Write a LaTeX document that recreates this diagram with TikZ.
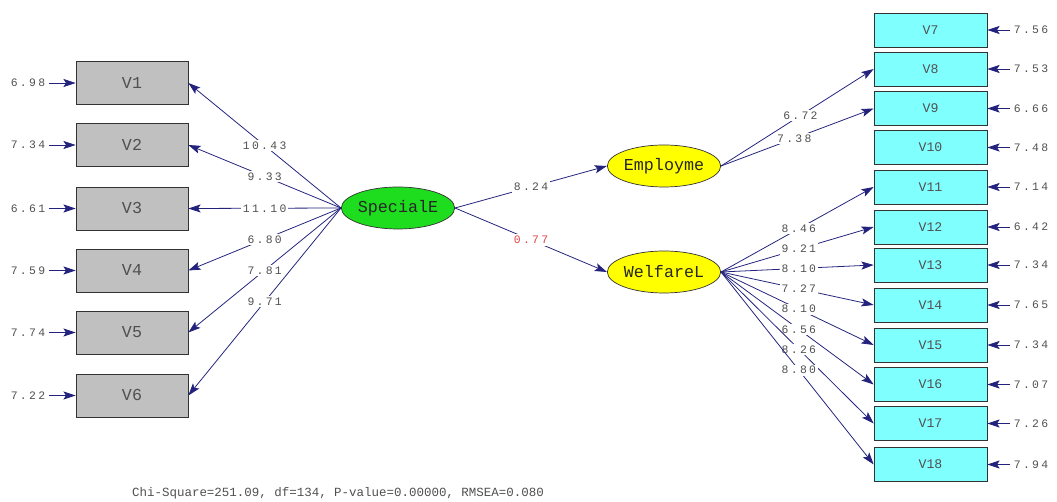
\documentclass[tikz,border=0pt]{standalone}
\usepackage{fontspec}
\setmonofont{Liberation Mono}
\newfontfamily\lisnum[LetterSpace=20]{Liberation Mono}
\usetikzlibrary{arrows.meta,shapes.geometric}
\definecolor{lisgray}{RGB}{192,192,192}
\definecolor{liscyan}{RGB}{128,255,255}
\definecolor{lisgreen}{RGB}{30,220,30}
\definecolor{lisyellow}{RGB}{255,255,0}
\definecolor{lisnavy}{RGB}{35,35,125}
\definecolor{lisred}{RGB}{225,70,70}
\definecolor{listext}{RGB}{80,80,80}
\begin{document}
\begin{tikzpicture}[x=0.02cm, y=-0.02cm,
    obsL/.style={draw=black!80, fill=lisgray, minimum width=2.24cm, minimum height=0.86cm, inner sep=0pt, text=listext, font=\ttfamily\fontsize{9.5}{9.5}\selectfont},
    obsR/.style={draw=black!80, fill=liscyan, minimum width=2.26cm, minimum height=0.68cm, inner sep=0pt, text=listext, font=\ttfamily\fontsize{7.5}{7.5}\selectfont},
    lat/.style={ellipse, draw=black!80, minimum width=2.2cm, minimum height=0.84cm, inner sep=0pt, text=black!85, font=\ttfamily\fontsize{9.5}{9.5}\selectfont},
    lnk/.style={draw=lisnavy, line width=0.45pt, -{Stealth[length=7pt, width=4.6pt, inset=1.5pt]}},
    est/.style={fill=white, inner sep=1pt, text=listext, font=\lisnum\fontsize{6.5}{6.5}\selectfont},
    errlab/.style={inner sep=2pt, text=listext, font=\lisnum\fontsize{6.5}{6.5}\selectfont}]
\useasboundingbox (0,0) rectangle (1057,502);

\node[obsL] (v1) at (132,83) {V1};
\node[obsL] (v2) at (132,145) {V2};
\node[obsL] (v3) at (132,208.5) {V3};
\node[obsL] (v4) at (132,270.5) {V4};
\node[obsL] (v5) at (132,332.5) {V5};
\node[obsL] (v6) at (132,395.5) {V6};

\node[obsR] (v7) at (930.5,30) {V7};
\node[obsR] (v8) at (930.5,69) {V8};
\node[obsR] (v9) at (930.5,108.5) {V9};
\node[obsR] (v10) at (930.5,147.5) {V10};
\node[obsR] (v11) at (930.5,187) {V11};
\node[obsR] (v12) at (930.5,227) {V12};
\node[obsR] (v13) at (930.5,265) {V13};
\node[obsR] (v14) at (930.5,305) {V14};
\node[obsR] (v15) at (930.5,345) {V15};
\node[obsR] (v16) at (930.5,384.5) {V16};
\node[obsR] (v17) at (930.5,423.5) {V17};
\node[obsR] (v18) at (930.5,464.5) {V18};

\node[lat, fill=lisgreen] (spec) at (398,208) {SpecialE};
\node[lat, fill=lisyellow] (empl) at (664,166) {Employme};
\node[lat, fill=lisyellow] (welf) at (664,272) {WelfareL};

\node[errlab] (e1) at (28,83) {6.98};
\node[errlab] (e2) at (28,145) {7.34};
\node[errlab] (e3) at (28,208.5) {6.61};
\node[errlab] (e4) at (28,270.5) {7.59};
\node[errlab] (e5) at (28,332.5) {7.74};
\node[errlab] (e6) at (28,395.5) {7.22};
\draw[lnk] (e1) -- (v1);
\draw[lnk] (e2) -- (v2);
\draw[lnk] (e3) -- (v3);
\draw[lnk] (e4) -- (v4);
\draw[lnk] (e5) -- (v5);
\draw[lnk] (e6) -- (v6);

\node[errlab] (e7) at (1031,30) {7.56};
\node[errlab] (e8) at (1031,69) {7.53};
\node[errlab] (e9) at (1031,108.5) {6.66};
\node[errlab] (e10) at (1031,147.5) {7.48};
\node[errlab] (e11) at (1031,187) {7.14};
\node[errlab] (e12) at (1031,227) {6.42};
\node[errlab] (e13) at (1031,265) {7.34};
\node[errlab] (e14) at (1031,305) {7.65};
\node[errlab] (e15) at (1031,345) {7.34};
\node[errlab] (e16) at (1031,384.5) {7.07};
\node[errlab] (e17) at (1031,423.5) {7.26};
\node[errlab] (e18) at (1031,464.5) {7.94};
\draw[lnk] (e7) -- (v7);
\draw[lnk] (e8) -- (v8);
\draw[lnk] (e9) -- (v9);
\draw[lnk] (e10) -- (v10);
\draw[lnk] (e11) -- (v11);
\draw[lnk] (e12) -- (v12);
\draw[lnk] (e13) -- (v13);
\draw[lnk] (e14) -- (v14);
\draw[lnk] (e15) -- (v15);
\draw[lnk] (e16) -- (v16);
\draw[lnk] (e17) -- (v17);
\draw[lnk] (e18) -- (v18);

\draw[lnk] (spec.west) -- (v1.east) node[est, midway] {10.43};
\draw[lnk] (spec.west) -- (v2.east) node[est, midway] {9.33};
\draw[lnk] (spec.west) -- (v3.east) node[est, midway] {11.10};
\draw[lnk] (spec.west) -- (v4.east) node[est, midway] {6.80};
\draw[lnk] (spec.west) -- (v5.east) node[est, midway] {7.81};
\draw[lnk] (spec.west) -- (v6.east) node[est, midway] {9.71};

\draw[lnk] (spec.east) -- (empl.west) node[est, midway] {8.24};
\draw[lnk] (spec.east) -- (welf.west) node[est, midway, text=lisred] {0.77};

\draw[lnk] (empl.east) -- (v8.west) node[est, pos=0.52] {6.72};
\draw[lnk] (empl.east) -- (v9.west) node[est, pos=0.48] {7.38};

\draw[lnk] (welf.east) -- (v11.west) node[est, pos=0.51] {8.46};
\draw[lnk] (welf.east) -- (v12.west) node[est, pos=0.51] {9.21};
\draw[lnk] (welf.east) -- (v13.west) node[est, pos=0.51] {8.10};
\draw[lnk] (welf.east) -- (v14.west) node[est, pos=0.51] {7.27};
\draw[lnk] (welf.east) -- (v15.west) node[est, pos=0.51] {8.10};
\draw[lnk] (welf.east) -- (v16.west) node[est, pos=0.51] {6.56};
\draw[lnk] (welf.east) -- (v17.west) node[est, pos=0.51] {8.26};
\draw[lnk] (welf.east) -- (v18.west) node[est, pos=0.51] {8.80};

\node[text=listext, font=\ttfamily\fontsize{7.1}{7.1}\selectfont] (fit) at (338,493) {Chi-Square=251.09, df=134, P-value=0.00000, RMSEA=0.080};
\end{tikzpicture}
\end{document}
